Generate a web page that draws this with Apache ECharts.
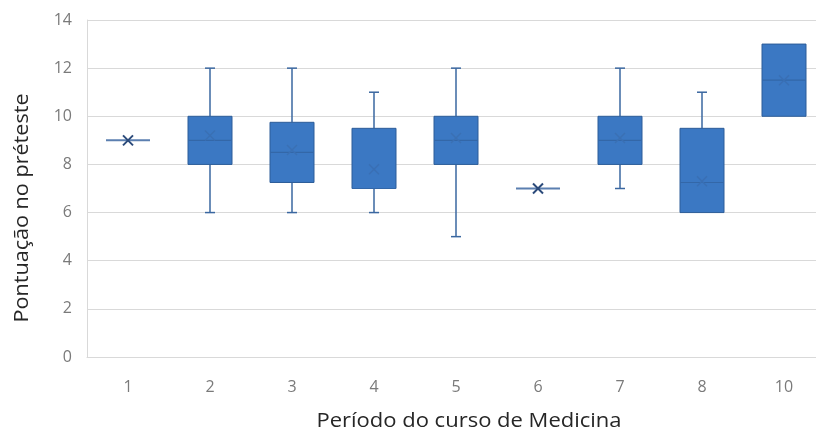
<!DOCTYPE html>
<html><head><meta charset="utf-8">
<script src="https://cdn.jsdelivr.net/npm/echarts@6/dist/echarts.min.js"></script>
<style>html,body{margin:0;padding:0;background:#fff}#c{width:816px;height:436px}</style>
</head><body><div id="c"></div>
<script>
const categories = ['1','2','3','4','5','6','7','8','10'];
const minVals    = [9, 6, 6,    6,   5, 7, 7, 6,    10];
const q1Vals     = [9, 8, 7.25, 7,   8, 7, 8, 6,    10];
const medianVals = [9, 9, 8.5,  7,   9, 7, 9, 7.25, 11.5];
const q3Vals     = [9, 10, 9.75, 9.5, 10, 7, 10, 9.5, 13];
const maxVals    = [9, 12, 12,  11,  12, 7, 12, 11,  13];
const meanVals   = [9, 9.2, 8.6, 7.8, 9.1, 7, 9.1, 7.3, 11.5];
const yTicks = [0, 2, 4, 6, 8, 10, 12, 14];

const data = categories.map((c, i) => [i, minVals[i], q1Vals[i], medianVals[i], q3Vals[i], maxVals[i], meanVals[i]]);

const chart = echarts.init(document.getElementById('c'), null, {renderer: 'canvas'});
const BOX = '#3b78c3', EDGE = '#2d5d99', WHISK = '#3a67a0', MARK = '#2b4a7a';

function renderItem(params, api) {
  const i = api.value(0);
  const pMin = api.coord([i, api.value(1)]);
  const pQ1 = api.coord([i, api.value(2)]);
  const pMed = api.coord([i, api.value(3)]);
  const pQ3 = api.coord([i, api.value(4)]);
  const pMax = api.coord([i, api.value(5)]);
  const pMean = api.coord([i, api.value(6)]);
  const x = pMed[0];
  const hw = 22, cap = 5, xs = 5;
  const children = [];
  if (pMax[1] < pQ3[1]) {
    children.push({type: 'line', shape: {x1: x, y1: pMax[1], x2: x, y2: pQ3[1]}, style: {stroke: WHISK, lineWidth: 1.5}});
    children.push({type: 'line', shape: {x1: x - cap, y1: pMax[1], x2: x + cap, y2: pMax[1]}, style: {stroke: WHISK, lineWidth: 1.5}});
  }
  if (pMin[1] > pQ1[1]) {
    children.push({type: 'line', shape: {x1: x, y1: pQ1[1], x2: x, y2: pMin[1]}, style: {stroke: WHISK, lineWidth: 1.5}});
    children.push({type: 'line', shape: {x1: x - cap, y1: pMin[1], x2: x + cap, y2: pMin[1]}, style: {stroke: WHISK, lineWidth: 1.5}});
  }
  const h = pQ1[1] - pQ3[1];
  if (h > 0.5) {
    children.push({type: 'rect', shape: {x: x - hw, y: pQ3[1], width: 2 * hw, height: h}, style: {fill: BOX, stroke: EDGE, lineWidth: 1}});
    children.push({type: 'line', shape: {x1: x - hw, y1: pMed[1], x2: x + hw, y2: pMed[1]}, style: {stroke: '#3367a8', lineWidth: 1.2}});
    children.push({type: 'line', shape: {x1: pMean[0] - xs, y1: pMean[1] - xs, x2: pMean[0] + xs, y2: pMean[1] + xs}, style: {stroke: '#3a70b4', lineWidth: 1.5}});
    children.push({type: 'line', shape: {x1: pMean[0] - xs, y1: pMean[1] + xs, x2: pMean[0] + xs, y2: pMean[1] - xs}, style: {stroke: '#3a70b4', lineWidth: 1.5}});
  } else {
    children.push({type: 'line', shape: {x1: x - hw, y1: pMed[1], x2: x + hw, y2: pMed[1]}, style: {stroke: '#5b7fb0', lineWidth: 2}});
    children.push({type: 'line', shape: {x1: pMean[0] - xs, y1: pMean[1] - xs, x2: pMean[0] + xs, y2: pMean[1] + xs}, style: {stroke: MARK, lineWidth: 2}});
    children.push({type: 'line', shape: {x1: pMean[0] - xs, y1: pMean[1] + xs, x2: pMean[0] + xs, y2: pMean[1] - xs}, style: {stroke: MARK, lineWidth: 2}});
  }
  return {type: 'group', children};
}

chart.setOption({
  animation: false,
  grid: {left: 87, top: 20, width: 738, height: 337, outerBoundsMode: 'none', containLabel: false},
  xAxis: {
    type: 'category', data: categories,
    axisLine: {show: true, lineStyle: {color: '#d9d9d9', width: 1}},
    axisTick: {show: false},
    axisLabel: {color: '#7a7a7a', fontSize: 16, fontFamily: 'Open Sans', margin: 22},
    splitLine: {show: false}
  },
  yAxis: {
    type: 'value', min: 0, max: 14, interval: 2,
    axisLine: {show: true, lineStyle: {color: '#d9d9d9'}},
    axisTick: {show: false},
    axisLabel: {color: '#7a7a7a', fontSize: 16, fontFamily: 'Open Sans', margin: 15,
      formatter: v => yTicks.includes(v) ? String(v) : ''},
    splitLine: {lineStyle: {color: '#d9d9d9', width: 1}}
  },
  graphic: [
    {type: 'text', x: 469, y: 421, scaleX: 1.1, style: {text: 'Período do curso de Medicina', x: 0, y: 0, fill: '#262626', font: '20px "Open Sans"', textAlign: 'center', textVerticalAlign: 'middle'}},
    {type: 'text', x: 22, y: 208, rotation: Math.PI / 2, scaleX: 1.08, style: {text: 'Pontuação no préteste', x: 0, y: 0, fill: '#262626', font: '20px "Open Sans"', textAlign: 'center', textVerticalAlign: 'middle'}}
  ],
  series: [{
    type: 'custom', renderItem,
    encode: {x: 0, y: [1, 2, 3, 4, 5]},
    data,
    clip: false
  }]
});
</script></body></html>
